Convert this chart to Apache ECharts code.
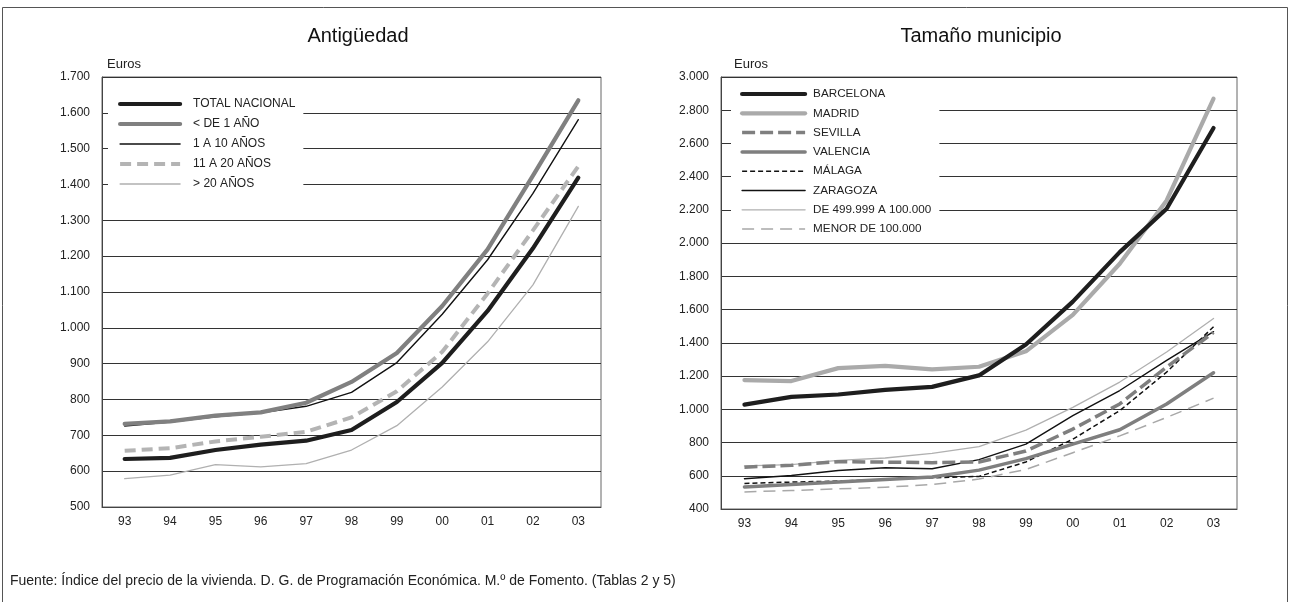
<!DOCTYPE html>
<html>
<head>
<meta charset="utf-8">
<script src="https://cdn.jsdelivr.net/npm/echarts@6/dist/echarts.min.js"></script>
<style>
html,body{margin:0;padding:0;background:#fff;}
#c{width:1290px;height:602px;}
</style>
</head>
<body>
<div id="c"></div>
<script>
// ---- data ----
const years = ['93','94','95','96','97','98','99','00','01','02','03'];

// Antigüedad
const totalNacional = [634, 637, 659, 674, 685, 715, 793, 902, 1047, 1222, 1419];
const menos1 = [732, 739, 755, 764, 791, 849, 930, 1061, 1219, 1425, 1635];
const de1a10 = [726, 737, 752, 763, 781, 820, 903, 1038, 1190, 1375, 1581];
const de11a20 = [657, 664, 683, 696, 710, 750, 823, 933, 1096, 1272, 1451];
const mas20 = [579, 589, 618, 612, 621, 659, 727, 835, 961, 1120, 1339];

// Tamaño municipio
const barcelona = [1028, 1075, 1089, 1117, 1135, 1204, 1390, 1648, 1946, 2207, 2693];
const madrid = [1176, 1170, 1248, 1261, 1240, 1256, 1349, 1568, 1876, 2257, 2870];
const sevilla = [652, 663, 685, 682, 679, 683, 749, 881, 1032, 1254, 1463];
const valencia = [533, 547, 562, 578, 592, 634, 703, 790, 877, 1032, 1220];
const malaga = [554, 562, 568, 578, 588, 596, 683, 820, 992, 1224, 1497];
const zaragoza = [582, 602, 632, 648, 642, 697, 790, 962, 1113, 1295, 1467];
const de499a100 = [659, 667, 693, 707, 735, 776, 875, 1012, 1164, 1345, 1547];
const menor100 = [503, 511, 521, 531, 547, 580, 638, 739, 840, 951, 1067];

const leftNames = ['TOTAL NACIONAL', '< DE 1 AÑO', '1 A 10 AÑOS', '11 A 20 AÑOS', '> 20 AÑOS'];
const rightNames = ['BARCELONA', 'MADRID', 'SEVILLA', 'VALENCIA', 'MÁLAGA', 'ZARAGOZA', 'DE 499.999 A 100.000', 'MENOR DE 100.000'];

const titles = ['Antigüedad', 'Tamaño municipio'];
const sourceText = 'Fuente: Índice del precio de la vivienda. D. G. de Programación Económica. M.º de Fomento. (Tablas 2 y 5)';

// ---- styles (not data) ----
const leftStyles = [
  { color: '#1e1e1e', width: 4.2, type: 'solid' },
  { color: '#808080', width: 4.2, type: 'solid' },
  { color: '#111111', width: 1.4, type: 'solid' },
  { color: '#b4b4b4', width: 4, type: [11, 6] },
  { color: '#b0b0b0', width: 1.3, type: 'solid' }
];
const rightStyles = [
  { color: '#1e1e1e', width: 4.2, type: 'solid' },
  { color: '#aaaaaa', width: 4.2, type: 'solid' },
  { color: '#7f7f7f', width: 3.5, type: [13, 5] },
  { color: '#7f7f7f', width: 3.5, type: 'solid' },
  { color: '#111111', width: 1.5, type: [5, 3] },
  { color: '#111111', width: 1.4, type: 'solid' },
  { color: '#b0b0b0', width: 1.3, type: 'solid' },
  { color: '#a8a8a8', width: 1.5, type: [12, 7] }
];

// ---- chart ----
const FONT = 'Liberation Sans, Arial, sans-serif';
function fmt(v){ return String(v).replace(/\B(?=(\d{3})+(?!\d))/g, '.'); }
function capOf(st){ return st.type === 'solid' ? 'round' : 'butt'; }

function line(name, data, idx, st){
  return {
    name: name, type: 'line', data: data,
    xAxisIndex: idx, yAxisIndex: idx,
    symbol: 'none', smooth: false, animation: false,
    lineStyle: { color: st.color, width: st.width, type: st.type, cap: capOf(st), join: 'round' },
    itemStyle: { color: st.color },
    emphasis: { disabled: true }
  };
}
const hiddenSymbol = { color: 'rgba(0,0,0,0)', borderColor: 'rgba(0,0,0,0)', borderWidth: 0, opacity: 0 };
function legendItem(name, st){
  return { name: name, itemStyle: hiddenSymbol,
    lineStyle: { color: st.color, width: st.width, type: st.type, cap: capOf(st) } };
}

const chart = echarts.init(document.getElementById('c'), null, {renderer: 'canvas'});
const axisLabel = { color: '#222', fontSize: 12, fontFamily: FONT };

const seriesDataL = [totalNacional, menos1, de1a10, de11a20, mas20];
const seriesDataR = [barcelona, madrid, sevilla, valencia, malaga, zaragoza, de499a100, menor100];
const series = [];
for (let i = seriesDataL.length - 1; i >= 0; i--) series.push(line(leftNames[i], seriesDataL[i], 0, leftStyles[i]));
for (let i = seriesDataR.length - 1; i >= 0; i--) series.push(line(rightNames[i], seriesDataR[i], 1, rightStyles[i]));

chart.setOption({
  backgroundColor: '#fff',
  animation: false,
  title: [
    { text: titles[0], left: 353, top: 21, textAlign: 'center',
      textStyle: { fontSize: 20, fontWeight: 'normal', color: '#111', fontFamily: FONT } },
    { text: titles[1], left: 976, top: 21, textAlign: 'center',
      textStyle: { fontSize: 20, fontWeight: 'normal', color: '#111', fontFamily: FONT } }
  ],
  grid: [
    { left: 102, right: 689, top: 77, bottom: 95, show: true, borderColor: '#666', borderWidth: 1, containLabel: false },
    { left: 721, right: 53, top: 77, bottom: 93, show: true, borderColor: '#666', borderWidth: 1, containLabel: false }
  ],
  xAxis: [0, 1].map(i => ({
    type: 'category', gridIndex: i, data: years, boundaryGap: true,
    axisLine: { show: true, lineStyle: { color: '#444', width: 1 } },
    axisTick: { show: false },
    axisLabel: Object.assign({ margin: 9 }, axisLabel),
    splitLine: { show: false }
  })),
  yAxis: [
    { type: 'value', gridIndex: 0, min: 500, max: 1700, interval: 100,
      name: 'Euros', nameLocation: 'end', nameGap: 6,
      nameTextStyle: { align: 'left', color: '#222', fontSize: 13, fontFamily: FONT, padding: [0, 0, 0, 5] },
      axisLine: { show: true, lineStyle: { color: '#444' } }, axisTick: { show: false },
      axisLabel: Object.assign({ margin: 12, formatter: fmt }, axisLabel),
      splitLine: { show: true, lineStyle: { color: '#333', width: 1 } } },
    { type: 'value', gridIndex: 1, min: 400, max: 3000, interval: 200,
      name: 'Euros', nameLocation: 'end', nameGap: 6,
      nameTextStyle: { align: 'left', color: '#222', fontSize: 13, fontFamily: FONT, padding: [0, 0, 0, 13] },
      axisLine: { show: true, lineStyle: { color: '#444' } }, axisTick: { show: false },
      axisLabel: Object.assign({ margin: 12, formatter: fmt }, axisLabel),
      splitLine: { show: true, lineStyle: { color: '#333', width: 1 } } }
  ],
  legend: [
    { data: leftNames.map((n, i) => legendItem(n, leftStyles[i])),
      orient: 'vertical', left: 108, top: 90, padding: [8, 8, 8, 10],
      itemWidth: 60, itemHeight: 12, itemGap: 8, backgroundColor: '#fff',
      selectedMode: false, itemStyle: hiddenSymbol,
      textStyle: { fontSize: 12, color: '#222', fontFamily: FONT, padding: [0, 0, 0, 8] } },
    { data: rightNames.map((n, i) => legendItem(n, rightStyles[i])),
      orient: 'vertical', left: 731, top: 80, padding: [8, 8, 8, 9],
      itemWidth: 63, itemHeight: 12, itemGap: 7.3, backgroundColor: '#fff',
      selectedMode: false, itemStyle: hiddenSymbol,
      textStyle: { fontSize: 11.7, color: '#222', fontFamily: FONT, padding: [0, 0, 0, 3] } }
  ],
  graphic: [
    { type: 'rect', shape: { x: 2.5, y: 7.5, width: 1285, height: 620 }, silent: true, z: -1,
      style: { fill: 'none', stroke: '#555', lineWidth: 1 } },
    { type: 'text', left: 10, top: 574, silent: true,
      style: { text: sourceText, fontSize: 14, fill: '#222', fontFamily: FONT } }
  ],
  series: series
});
</script>
</body>
</html>
